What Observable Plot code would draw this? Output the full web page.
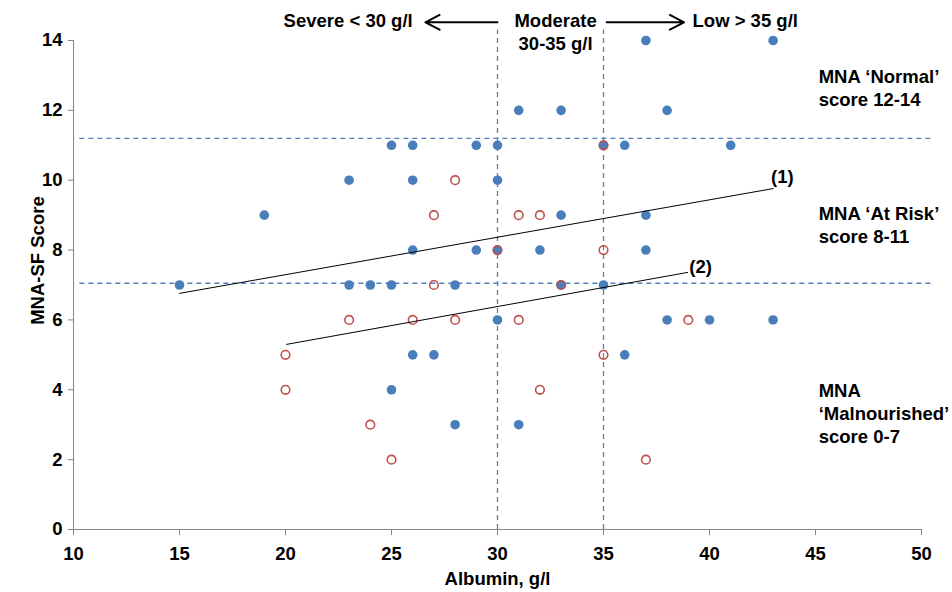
<!DOCTYPE html>
<html><head><meta charset="utf-8">
<script src="https://cdn.jsdelivr.net/npm/d3@7"></script>
<script src="https://cdn.jsdelivr.net/npm/@observablehq/plot@0.6"></script>
<style>
body{margin:0;background:#fff}
</style>
</head><body><div id="chart"></div>
<script>
// Group 1 (filled blue)
const blueX = [37,43, 31,33,38, 25,26,29,30,35,36,41, 23,26,30, 19,33,37, 26,29,30,32,37, 15,23,24,25,28,33,35, 30,38,40,43, 26,27,36, 25, 28,31];
const blueY = [14,14, 12,12,12, 11,11,11,11,11,11,11, 10,10,10, 9,9,9, 8,8,8,8,8, 7,7,7,7,7,7,7, 6,6,6,6, 5,5,5, 4, 3,3];
// Group 2 (open red)
const redX = [35, 28, 27,31,32, 30,35, 27,33, 23,26,28,31,39, 20,35, 20,32, 24, 25,37];
const redY = [11, 10, 9,9,9, 8,8, 7,7, 6,6,6,6,6, 5,5, 4,4, 3, 2,2];
// Trend lines (end points)
const line1X = [15, 43], line1Y = [6.76, 9.76];
const line2X = [20.05, 38.97], line2Y = [5.30, 7.36];
// Reference thresholds
const scoreCuts = [11.2, 7.05];
const albuminCuts = [30, 35];
const xTicks = [10,15,20,25,30,35,40,45,50];
const yTicks = [0,2,4,6,8,10,12,14];

const blue = blueX.map((x,i)=>({x, y: blueY[i]}));
const red = redX.map((x,i)=>({x, y: redY[i]}));
const l1 = line1X.map((x,i)=>({x, y: line1Y[i]}));
const l2 = line2X.map((x,i)=>({x, y: line2Y[i]}));

const zoneLabels = [
  {x: 45.15, y: 12.67, t: "MNA \u2018Normal\u2019\nscore 12-14"},
  {x: 45.15, y: 8.75, t: "MNA \u2018At Risk\u2019\nscore 8-11"},
  {x: 45.15, y: 3.35, t: "MNA\n\u2018Malnourished\u2019\nscore 0-7"}
];
const leftLabel = [{x: 26.0, y: 14.55, t: "Severe < 30 g/l"}];
const midLabels = [
  {x: 32.74, y: 14.55, t: "Moderate"},
  {x: 32.74, y: 13.91, t: "30-35 g/l"}
];
const rightLabel = [{x: 39.2, y: 14.55, t: "Low > 35 g/l"}];
const arrows = [
  {x1: 30, x2: 26.6, y: 14.52},
  {x1: 35.15, x2: 38.8, y: 14.52}
];
const lineLabels = [
  {x: 43.44, y: 10.08, t: "(1)"},
  {x: 39.58, y: 7.5, t: "(2)"}
];

const dash = "#4f81bd";
const fs = 18.5;
const chart = Plot.plot({
  width: 952, height: 592,
  marginLeft: 73, marginRight: 31, marginTop: 40, marginBottom: 63,
  style: {fontFamily: "'Liberation Sans', Arial, sans-serif", fontSize: "18px", fontWeight: "bold", color: "#000", background: "#fff", overflow: "visible"},
  x: {domain: [10, 50]},
  y: {domain: [0, 14]},
  marks: [
    Plot.ruleY(scoreCuts, {x1: 10.3, x2: 50.5, stroke: dash, strokeWidth: 1.3, strokeDasharray: "5,4"}),
    Plot.ruleX(albuminCuts, {y1: 0, y2: 14.3, stroke: dash, strokeWidth: 1.3, strokeDasharray: "5,4"}),
    Plot.ruleY([0], {stroke: "#868686", strokeWidth: 1}),
    Plot.ruleX([10], {stroke: "#868686", strokeWidth: 1}),
    Plot.axisX({ticks: xTicks, tickSize: 6, tickPadding: 11, stroke: "#868686", fill: "#000", label: null, fontSize: fs, tickFormat: d => String(d)}),
    Plot.axisY({ticks: yTicks, tickSize: 5, tickPadding: 6, stroke: "#868686", fill: "#000", label: null, fontSize: fs, tickFormat: d => String(d)}),
    Plot.dot(blue, {x: "x", y: "y", r: 4.8, fill: "#4a7ebb", stroke: "none"}),
    Plot.dot(red, {x: "x", y: "y", r: 4.3, fill: "none", stroke: "#c0504d", strokeWidth: 1.6}),
    Plot.line(l1, {x: "x", y: "y", stroke: "#000", strokeWidth: 1}),
    Plot.line(l2, {x: "x", y: "y", stroke: "#000", strokeWidth: 1}),
    Plot.text(lineLabels, {x: "x", y: "y", text: "t", fontSize: fs}),
    Plot.text(zoneLabels, {x: "x", y: "y", text: "t", textAnchor: "start", lineAnchor: "middle", lineHeight: 1.25, fontSize: fs}),
    Plot.text(leftLabel, {x: "x", y: "y", text: "t", textAnchor: "end", fontSize: fs}),
    Plot.text(midLabels, {x: "x", y: "y", text: "t", textAnchor: "middle", fontSize: fs}),
    Plot.text(rightLabel, {x: "x", y: "y", text: "t", textAnchor: "start", fontSize: fs}),
    Plot.arrow(arrows, {x1: "x1", x2: "x2", y1: "y", y2: "y", bend: 0, headLength: 12, headAngle: 55, stroke: "#000", strokeWidth: 2}),
    Plot.text(["Albumin, g/l"], {x: 30, y: -1.43, text: d => d, fontSize: fs}),
    Plot.text(["MNA-SF Score"], {x: 8.35, y: 7.7, text: d => d, rotate: -90, fontSize: fs})
  ]
});
document.getElementById("chart").appendChild(chart);
</script>
</body></html>
